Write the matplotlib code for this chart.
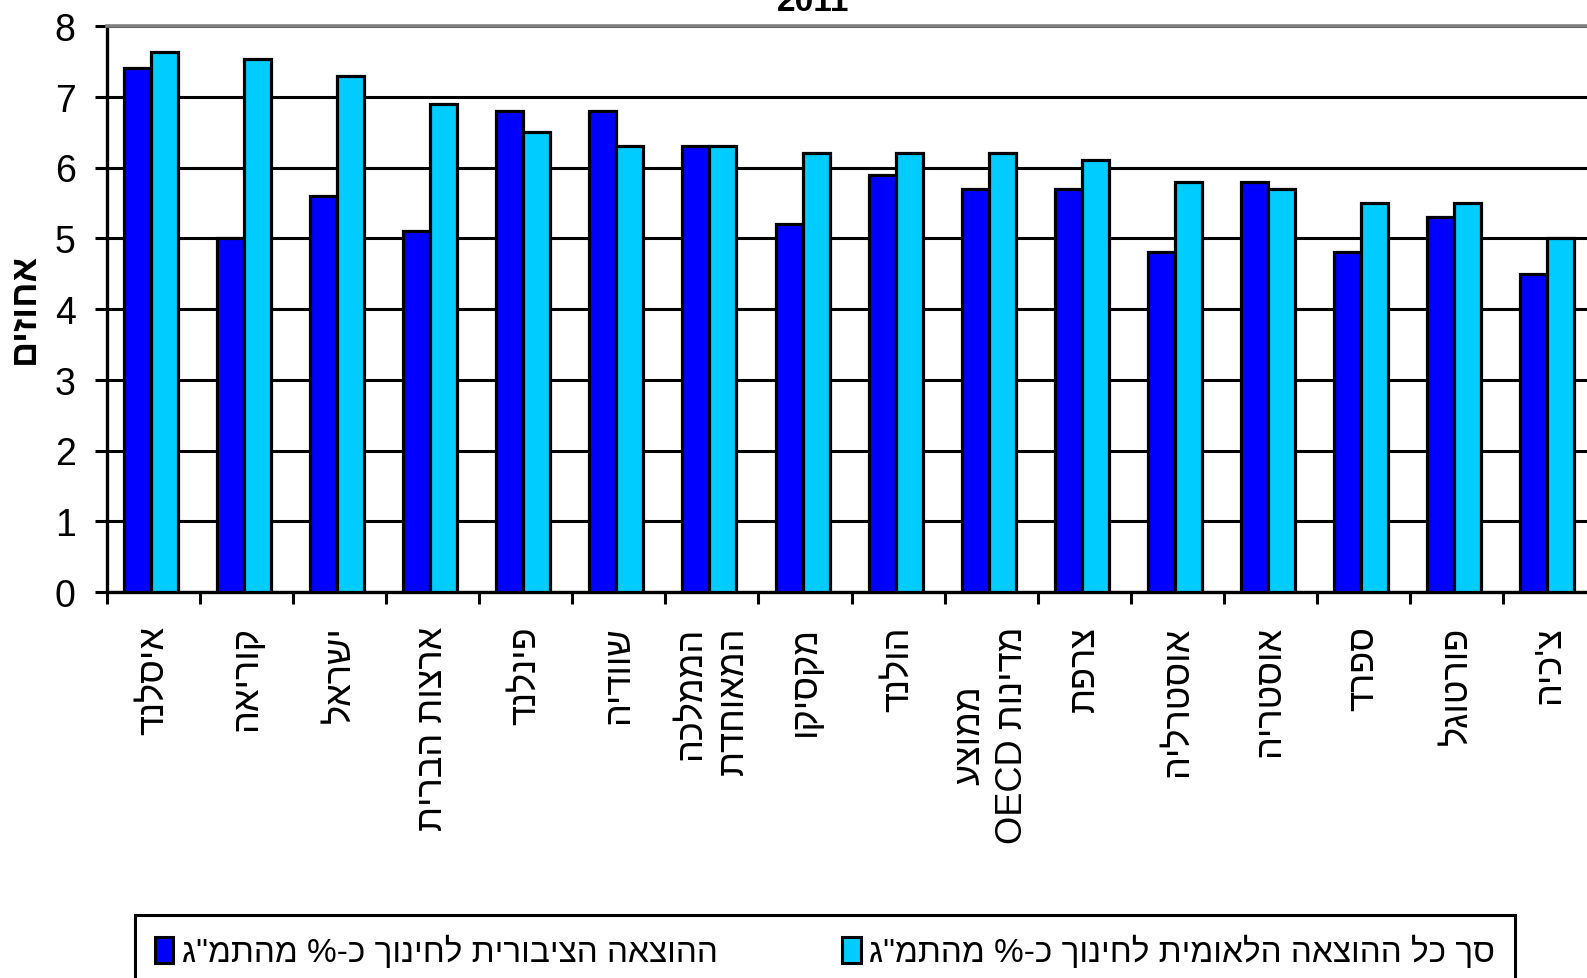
import matplotlib
matplotlib.use('Agg')
import matplotlib.pyplot as plt
from matplotlib.patches import Patch
import numpy as np

plt.rcParams['font.family'] = ['Liberation Sans', 'DejaVu Sans']

# data (percent of GDP, 2011)
countries = ['איסלנד', 'קוריאה', 'ישראל', 'ארצות הברית', 'פינלנד', 'שוודיה',
             'הממלכה\nהמאוחדת', 'מקסיקו', 'הולנד', 'ממוצע\nמדינות OECD',
             'צרפת', 'אוסטרליה', 'אוסטריה', 'ספרד', 'פורטוגל', "צ'כיה"]
public = [7.4, 5.0, 5.6, 5.1, 6.8, 6.8, 6.3, 5.2, 5.9, 5.7, 5.7, 4.8, 5.8, 4.8, 5.3, 4.5]
total = [7.63, 7.54, 7.3, 6.9, 6.5, 6.3, 6.3, 6.2, 6.2, 6.2, 6.1, 5.8, 5.7, 5.5, 5.5, 5.0]
series_labels = ['ההוצאה הציבורית לחינוך כ-% מהתמ"ג',
                 'סך כל ההוצאה הלאומית לחינוך כ-% מהתמ"ג']
yticks = [0, 1, 2, 3, 4, 5, 6, 7, 8]
title = '2011'
ylabel = 'אחוזים'

BLUE = '#0000ff'
CYAN = '#00ccff'


def rtl(s):
    """turn logical hebrew into the visual order matplotlib needs"""
    lines = []
    for line in s.split('\n'):
        words = [w if w.isascii() else w[::-1] for w in line.split(' ')]
        lines.append(' '.join(reversed(words)))
    return '\n'.join(lines)


W, H = 1587, 979
fig = plt.figure(figsize=(W / 100, H / 100), dpi=100)
ax = fig.add_axes([107 / W, 1 - 593 / H, 1 - 107 / W, (593 - 27) / H])

x = np.arange(len(countries))
bw = 0.29
off = -0.027
ax.bar(x - bw / 2 + off, public, bw, color=BLUE, edgecolor='black', linewidth=2.3, zorder=3)
ax.bar(x + bw / 2 + off, total, bw, color=CYAN, edgecolor='black', linewidth=2.3, zorder=3)

cat_px = 93.07
ax.set_xlim(-0.5, -0.5 + (W - 107) / cat_px)
ax.set_ylim(0, 8)

ax.set_axisbelow(True)
ax.yaxis.grid(True, color='black', linewidth=2.2)
ax.spines['right'].set_visible(False)
ax.spines['top'].set_color('#808080')
ax.spines['top'].set_linewidth(2.6)
ax.spines['left'].set_linewidth(2.4)
ax.spines['bottom'].set_linewidth(2.4)

ax.set_yticks(yticks)
ax.set_yticklabels([str(v) for v in yticks], family=['Liberation Sans Narrow', 'Liberation Sans'],
                   fontsize=27)
ax.tick_params(axis='y', length=8.6, width=2.2, pad=14)

ax.set_xticks(x)
ax.set_xticklabels([rtl(c) for c in countries], rotation=90, fontsize=26,
                   va='top', ha='center', linespacing=1.3, multialignment='right')
ax.get_xticklabels()[9].set_multialignment('center')
ax.set_xticks(np.arange(len(countries)) - 0.5, minor=True)
ax.tick_params(axis='x', which='major', length=0, pad=24)
ax.tick_params(axis='x', which='minor', length=8.6, width=2.2)

fig.text(24 / W, 1 - 308 / H, rtl(ylabel), rotation=90, fontsize=26, fontweight='bold',
         ha='center', va='center')
fig.text(813 / W, 1 - 11 / H, title, fontsize=24, fontweight='bold', ha='center', va='baseline')

handles = [Patch(facecolor=BLUE, edgecolor='black', linewidth=2.2),
           Patch(facecolor=CYAN, edgecolor='black', linewidth=2.2)]
leg = fig.legend(handles, [rtl(s) for s in series_labels], loc='upper left',
                 bbox_to_anchor=(135 / W, 0, 1380 / W, 1 - 916 / H), mode='expand',
                 ncol=2, fontsize=24, fancybox=False, edgecolor='black', framealpha=1,
                 handlelength=0.55, handleheight=0.82, handletextpad=0.25,
                 borderpad=0.6, borderaxespad=0)
leg.get_frame().set_linewidth(2.2)

fig.savefig('out.png', dpi=100)
